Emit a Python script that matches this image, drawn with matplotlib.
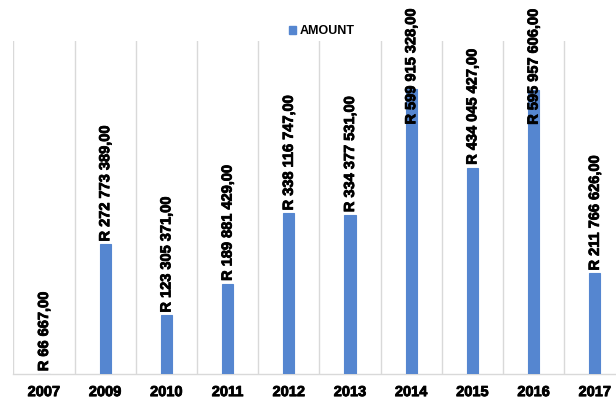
import matplotlib
matplotlib.use("Agg")
import matplotlib.pyplot as plt
from matplotlib.patches import Patch
import matplotlib.patheffects as pe
import numpy as np

years = ["2007", "2009", "2010", "2011", "2012", "2013", "2014", "2015", "2016", "2017"]
amounts = [66667.00, 272773389.00, 123305371.00, 189881429.00, 338116747.00,
           334377531.00, 599915328.00, 434045427.00, 595957606.00, 211766626.00]
series_name = "AMOUNT"

BAR = "#5586d0"
GRID = "#d9d9d9"
plt.rcParams['font.family'] = ['Liberation Sans', 'DejaVu Sans']

def fmt(v):
    s = f"{v:,.2f}"
    return "R " + s.replace(",", " ").replace(".", ",")

heavy = [pe.withStroke(linewidth=0.6, foreground='black')]

fig = plt.figure(figsize=(6.16, 4.0), dpi=100)
W, H = 616, 400
ax = fig.add_axes([13.4 / W, 26 / H, 612 / W, 333 / H])
x = np.arange(len(years))
bars = ax.bar(x, amounts, width=0.18, color=BAR, edgecolor=BAR, linewidth=0.8, zorder=3)
ax.set_xlim(-0.5, len(years) - 0.5)
ax.set_ylim(0, 700e6)
ax.set_xticks(x)
ax.set_xticklabels(years, fontsize=10.5, fontweight='bold')
for lbl in ax.get_xticklabels():
    lbl.set_path_effects(heavy)
ax.set_xticks(np.arange(len(years) + 1) - 0.5, minor=True)
ax.tick_params(axis='x', which='both', length=0, pad=8)
ax.set_yticks([])
ax.grid(axis='x', which='minor', color=GRID, linewidth=1, zorder=0)
for s in ['top', 'right', 'left']:
    ax.spines[s].set_visible(False)
ax.spines['bottom'].set_color(GRID)
ax.spines['bottom'].set_linewidth(1)

texts = []
for xi, v in zip(x, amounts):
    t = ax.annotate(fmt(v), xy=(xi, v), xytext=(0, 2), textcoords='offset points',
                    rotation=90, ha='center', va='bottom', fontsize=10.5,
                    fontweight='bold', color='black', zorder=5, path_effects=heavy)
    texts.append(t)

fig.canvas.draw()
r = fig.canvas.get_renderer()
top_limit = H - 8
for t, xi in zip(texts, x):
    bb = t.get_window_extent(r)
    if bb.y1 > top_limit:
        t.remove()
        ax.annotate(t.get_text(), xy=(xi, top_limit / H), xycoords=('data', 'figure fraction'),
                    rotation=90, ha='center', va='top', fontsize=10.5,
                    fontweight='bold', color='black', zorder=5, annotation_clip=False,
                    path_effects=heavy)

handles = [Patch(facecolor=BAR, edgecolor=BAR)]
fig.legend(handles, [series_name], loc='center', bbox_to_anchor=(322 / W, 1 - 31 / H),
           frameon=False, handlelength=0.6, handleheight=0.6, handletextpad=0.3,
           prop={'weight': 'bold', 'size': 9})

fig.savefig("out.png", dpi=100)
